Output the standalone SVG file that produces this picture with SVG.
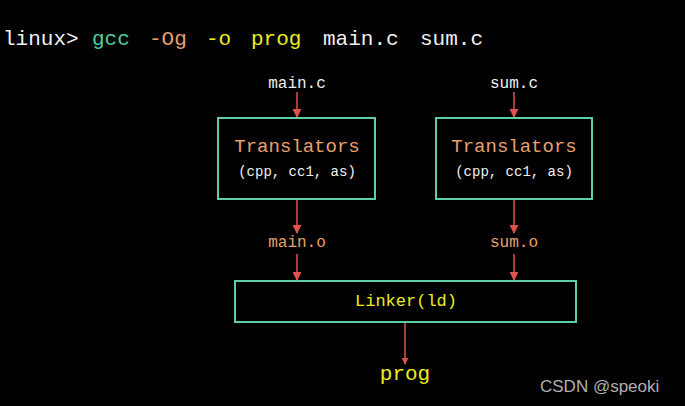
<svg xmlns="http://www.w3.org/2000/svg" width="685" height="406" viewBox="0 0 685 406">
<style>
.m{font-family:"Liberation Mono","DejaVu Sans Mono",monospace}
.box{fill:none;stroke:#5fcfa3;stroke-width:2}
.ln{stroke:#e0504c;stroke-width:1.5;fill:none}
.w{fill:#f0f0f0}.o{fill:#e8a070}.y{fill:#ecec20}.g{fill:#4fcf9c}
</style>
<defs>
<marker id="a" viewBox="0 0 10 10" refX="9" refY="5" markerWidth="6" markerHeight="6" orient="auto"><path d="M0,0L10,5L0,10z" fill="#e0504c"/></marker>
<marker id="b" viewBox="0 0 10 10" refX="9" refY="5" markerWidth="4.5" markerHeight="4.5" orient="auto"><path d="M0,0L10,5L0,10z" fill="#e0504c"/></marker>
</defs>
<rect width="685" height="406" fill="#000"/>
<g id="cmd" class="m" font-size="21">
<text x="3" y="45" class="w">linux&gt;</text>
<text x="92" y="45" class="g">gcc</text>
<text x="149" y="45" class="o">-Og</text>
<text x="206" y="45" class="y">-o</text>
<text x="251" y="45" class="y">prog</text>
<text x="323" y="45" class="w">main.c</text>
<text x="420" y="45" class="w">sum.c</text>
</g>
<g id="in1"><text x="297" y="88" class="m w" font-size="16" text-anchor="middle">main.c</text></g>
<g id="in2"><text x="514" y="88" class="m w" font-size="16" text-anchor="middle">sum.c</text></g>
<g id="t1"><rect x="218" y="118" width="157" height="81" class="box"/>
<text x="297" y="152" class="m o" font-size="19" text-anchor="middle">Translators</text>
<text x="297" y="176" class="m w" font-size="14" text-anchor="middle">(cpp, cc1, as)</text></g>
<g id="t2"><rect x="436" y="118" width="156" height="81" class="box"/>
<text x="514" y="152" class="m o" font-size="19" text-anchor="middle">Translators</text>
<text x="514" y="176" class="m w" font-size="14" text-anchor="middle">(cpp, cc1, as)</text></g>
<g id="o1"><text x="297" y="247" class="m o" font-size="16" text-anchor="middle">main.o</text></g>
<g id="o2"><text x="514" y="247" class="m o" font-size="16" text-anchor="middle">sum.o</text></g>
<g id="linker"><rect x="235" y="281" width="341" height="41" class="box"/>
<text x="406" y="306" class="m y" font-size="17" text-anchor="middle">Linker(ld)</text></g>
<g id="prog"><text x="405" y="380" class="m y" font-size="21" text-anchor="middle">prog</text></g>
<g id="connectors">
<line x1="297" y1="92" x2="297" y2="117" class="ln" marker-end="url(#a)"/>
<line x1="514" y1="92" x2="514" y2="117" class="ln" marker-end="url(#a)"/>
<line x1="297" y1="200" x2="297" y2="233" class="ln" marker-end="url(#a)"/>
<line x1="514" y1="200" x2="514" y2="233" class="ln" marker-end="url(#a)"/>
<line x1="297" y1="254" x2="297" y2="280" class="ln" marker-end="url(#a)"/>
<line x1="514" y1="254" x2="514" y2="280" class="ln" marker-end="url(#a)"/>
<line x1="405" y1="323" x2="405" y2="364" class="ln" stroke-width="2.5" marker-end="url(#b)"/>
</g>
<text x="540" y="392" font-family="Liberation Sans,Arial,sans-serif" font-size="17" fill="#b0b0b0">CSDN @speoki</text>
</svg>
